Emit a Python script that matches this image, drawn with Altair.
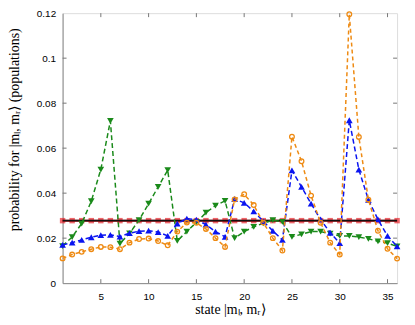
import altair as alt
import pandas as pd

states = list(range(1, 37))

uniform = [1 / 36] * 36

green = [0.0165, 0.0205, 0.0265, 0.0364, 0.0505, 0.0721, 0.0176, 0.0221, 0.0280, 0.0353,
         0.0428, 0.0502, 0.0188, 0.0229, 0.0270, 0.0313, 0.0345, 0.0366, 0.0200, 0.0229,
         0.0250, 0.0266, 0.0280, 0.0272, 0.0206, 0.0217, 0.0229, 0.0229, 0.0220, 0.0210,
         0.0210, 0.0205, 0.0197, 0.0186, 0.0178, 0.0163]

blue = [0.0170, 0.0180, 0.0192, 0.0204, 0.0213, 0.0215, 0.0207, 0.0222, 0.0231, 0.0233,
        0.0227, 0.0210, 0.0265, 0.0287, 0.0282, 0.0260, 0.0229, 0.0206, 0.0374, 0.0357,
        0.0319, 0.0275, 0.0232, 0.0192, 0.0501, 0.0428, 0.0353, 0.0283, 0.0224, 0.0178,
        0.0724, 0.0505, 0.0370, 0.0283, 0.0210, 0.0163]

orange = [0.0110, 0.0127, 0.0139, 0.0151, 0.0161, 0.0160, 0.0151, 0.0180, 0.0196, 0.0198,
          0.0187, 0.0168, 0.0229, 0.0269, 0.0268, 0.0241, 0.0200, 0.0161, 0.0372, 0.0395,
          0.0347, 0.0269, 0.0200, 0.0145, 0.0651, 0.0542, 0.0389, 0.0268, 0.0180, 0.0127,
          0.1195, 0.0650, 0.0371, 0.0233, 0.0153, 0.0109]

x_ticks = [5, 10, 15, 20, 25, 30, 35]
y_ticks = [0, 0.02, 0.04, 0.06, 0.08, 0.1, 0.12]

W, H = 337, 272

xscale = alt.Scale(domain=[1, 36], nice=False, zero=False)
yscale = alt.Scale(domain=[0, 0.12], nice=False)

xaxis = alt.Axis(values=x_ticks, ticks=False, grid=False, labelPadding=8,
                 title="state |mₗ, mᵣ⟩", titleFont="Liberation Serif", titleFontSize=14,
                 titleFontWeight="normal", titleY=27, titleBaseline="middle")
yaxis = alt.Axis(values=y_ticks, ticks=False, grid=False, labelPadding=7,
                 labelExpr="format(datum.value, '.2~f')",
                 title="probability for |mₗ, mᵣ⟩ (populations)", titleFont="Liberation Serif",
                 titleFontSize=14, titleFontWeight="normal", titleX=-48, titleY=117,
                 titleBaseline="middle", titleAlign="center", titleAngle=270)


def series(vals, color, dash, shape, filled, size, opacity=1.0, stroke_w=1.5, marker=True):
    df = pd.DataFrame({"state": states, "p": vals})
    base = alt.Chart(df)
    line = base.mark_line(color=color, strokeDash=dash, strokeWidth=stroke_w).encode(
        x=alt.X("state:Q", scale=xscale, axis=xaxis),
        y=alt.Y("p:Q", scale=yscale, axis=yaxis),
    )
    layers = [line]
    if marker:
        pts = base.mark_point(shape=shape, filled=filled, color=color, size=size,
                              opacity=opacity, strokeWidth=1.3).encode(
            x=alt.X("state:Q", scale=xscale),
            y=alt.Y("p:Q", scale=yscale),
        )
        layers.append(pts)
    return layers


red_layers = series(uniform, "#e8141c", [1, 0], "square", True, 30, opacity=0.65, stroke_w=2)
black_layers = series(uniform, "#111111", [1, 0], "square", True, 0, stroke_w=1.6, marker=False)
green_layers = series(green, "#1a8a1a", [5, 3], "triangle-down", True, 45)
blue_layers = series(blue, "#0a14f0", [5, 3], "triangle-up", True, 45)
orange_layers = series(orange, "#ee8a12", [4, 3], "circle", False, 22)

xt = pd.DataFrame({"t": x_ticks})
yt = pd.DataFrame({"t": y_ticks[1:-1]})
tick_color = "#777777"
xtick_bottom = alt.Chart(xt).mark_rule(color=tick_color, strokeWidth=1).encode(
    x=alt.X("t:Q", scale=xscale), y=alt.value(H), y2=alt.value(H - 4))
xtick_top = alt.Chart(xt).mark_rule(color=tick_color, strokeWidth=1).encode(
    x=alt.X("t:Q", scale=xscale), y=alt.value(0), y2=alt.value(4))
ytick_left = alt.Chart(yt).mark_rule(color=tick_color, strokeWidth=1).encode(
    y=alt.Y("t:Q", scale=yscale), x=alt.value(0), x2=alt.value(4))
ytick_right = alt.Chart(yt).mark_rule(color=tick_color, strokeWidth=1).encode(
    y=alt.Y("t:Q", scale=yscale), x=alt.value(W - 4), x2=alt.value(W))

chart = alt.layer(
    *red_layers, *black_layers, *green_layers, *blue_layers, *orange_layers,
    xtick_bottom, xtick_top, ytick_left, ytick_right,
).properties(
    width=W, height=H,
    autosize=alt.AutoSizeParams(type="none"),
    padding={"left": 55, "top": 4, "right": 10, "bottom": 45},
).configure_view(
    stroke="#555555", strokeWidth=1
).configure_axis(
    labelFont="Liberation Sans", labelFontSize=12, labelColor="#111111",
    domainColor="#333333", titleColor="#111111",
).configure(background="white")

chart.save("out.html", embed_options={"renderer": "svg", "actions": False})
